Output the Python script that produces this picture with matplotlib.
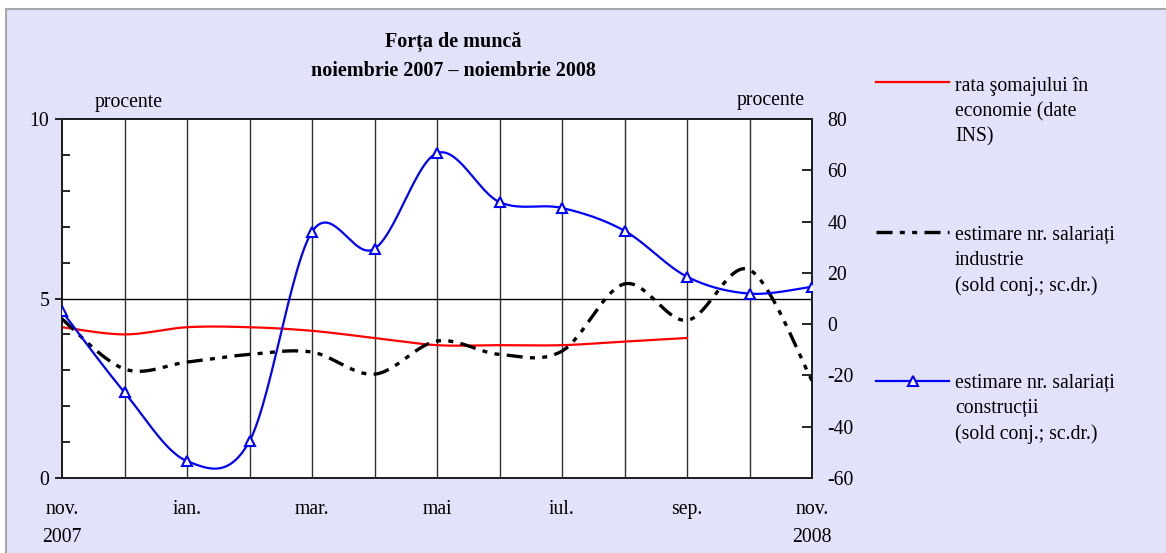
import numpy as np
import matplotlib
matplotlib.use("Agg")
import matplotlib.pyplot as plt
from matplotlib.lines import Line2D
from matplotlib.patches import Rectangle

plt.rcParams['font.family'] = ['Liberation Serif', 'DejaVu Serif']
plt.rcParams['axes.unicode_minus'] = False

# ---- data ----
months = ["nov.", "dec.", "ian.", "feb.", "mar.", "apr.", "mai", "iun.",
          "iul.", "aug.", "sep.", "oct.", "nov."]
tick_labels = ["nov.\n2007", "ian.", "mar.", "mai", "iul.", "sep.", "nov.\n2008"]
unemployment = [4.2, 4.0, 4.2, 4.2, 4.1, 3.9, 3.7, 3.7, 3.7, 3.8, 3.9]
industry = [2.0, -17.5, -14.8, -11.8, -10.9, -19.5, -6.6, -11.8, -10.5, 15.7, 1.5, 21.2, -22.0]
construction = [5.0, -26.6, -53.4, -45.6, 36.0, 29.4, 66.7, 47.6, 45.3, 36.4, 18.5, 11.9, 14.6]

W, H = 1166, 553
FS = 14.2
DASH = (4.8, 2.2, 1.5, 2.2, 1.5, 2.2)


def smooth(y, n=30):
    """Excel-style smoothed line (Bezier with neighbour-based control points)."""
    x = np.arange(len(y), dtype=float)
    pts = np.column_stack([x, np.asarray(y, float)])
    out = []
    m = len(pts)
    t = np.linspace(0, 1, n)[:, None]
    for i in range(m - 1):
        p0 = pts[max(i - 1, 0)]
        p1 = pts[i]
        p2 = pts[i + 1]
        p3 = pts[min(i + 2, m - 1)]
        c1 = p1 + (p2 - p0) / 6.0
        c2 = p2 - (p3 - p1) / 6.0
        seg = ((1 - t) ** 3) * p1 + 3 * ((1 - t) ** 2) * t * c1 + 3 * (1 - t) * t ** 2 * c2 + t ** 3 * p2
        out.append(seg if i == 0 else seg[1:])
    arr = np.vstack(out)
    return arr[:, 0], arr[:, 1]


def fx(px):
    return px / W


def fy(py):
    return 1 - py / H


fig = plt.figure(figsize=(W / 100, H / 100), dpi=100)
fig.patch.set_facecolor("white")

# background panel
fig.add_artist(Rectangle((fx(6), 0), 1 - fx(6), fy(9), transform=fig.transFigure,
                         facecolor="#e2e2fb", edgecolor="none", zorder=-10))
fig.add_artist(Line2D([fx(6), 1], [fy(9), fy(9)], transform=fig.transFigure, color="#a8a8a8", lw=1.5, zorder=-9))
fig.add_artist(Line2D([fx(6), fx(6)], [0, fy(9)], transform=fig.transFigure, color="#a8a8a8", lw=1.5, zorder=-9))

ax = fig.add_axes([fx(62), fy(478), fx(812) - fx(62), fy(119) - fy(478)])
ax.set_facecolor("white")
ax2 = ax.twinx()

x_idx = np.arange(len(months))

# grid
for xi in x_idx[1:-1]:
    ax.axvline(xi, color="#303030", lw=1.0, zorder=1)
ax.axhline(5, color="black", lw=1.0, zorder=1)

# red series (left axis)
xs, ys = smooth(unemployment)
ax.plot(xs, ys, color="#ff0000", lw=1.6, zorder=3)

# industry (right axis)
xs, ys = smooth(industry)
ax2.plot(xs, ys, color="black", lw=2.4, dashes=DASH, zorder=3)

# construction (right axis)
xs, ys = smooth(construction)
ax2.plot(xs, ys, color="#0000ff", lw=1.6, zorder=4)
ax2.plot(x_idx, construction, ls="none", marker="^", ms=7, mfc="white", mec="#0000ff", mew=1.5, zorder=5)

ax.set_xlim(0, 12)
ax.set_ylim(0, 10)
ax2.set_ylim(-60, 80)

ax.set_yticks([0, 5, 10])
ax.set_yticks(np.arange(0, 11, 1), minor=True)
ax.tick_params(axis="y", which="major", direction="out", length=5, width=1.2, labelsize=FS, pad=4)
ax.tick_params(axis="y", which="minor", direction="in", length=6, width=1.2)
ax2.set_yticks(np.arange(-60, 81, 20))
ax2.tick_params(axis="y", which="major", direction="in", length=7, width=1.2, labelsize=FS, pad=11)

ax.set_xticks(x_idx[::2])
ax.set_xticklabels(tick_labels, fontsize=FS, va="top", linespacing=1.6)
ax.tick_params(axis="x", length=0, pad=16)
ax2.tick_params(axis="x", length=0)

for a in (ax, ax2):
    for s in a.spines.values():
        s.set_color("#202020")
        s.set_linewidth(1.4)

# titles and unit labels
fig.text(fx(453), fy(42), "Forța de muncă", ha="center", va="center", fontsize=14.5, fontweight="bold")
fig.text(fx(453), fy(71), "noiembrie 2007 – noiembrie 2008", ha="center", va="center", fontsize=14.5, fontweight="bold")
fig.text(fx(129), fy(103), "procente", ha="center", va="center", fontsize=FS)
fig.text(fx(771), fy(101), "procente", ha="center", va="center", fontsize=FS)

# legend (manual)
lx0, lx1, tx = 876, 949, 955
LS = 1.42


def legend_text(y, s):
    fig.text(fx(tx), fy(y - 7), s, ha="left", va="top", fontsize=FS, linespacing=LS,
             transform=fig.transFigure)


fig.add_artist(Line2D([fx(lx0), fx(lx1)], [fy(82), fy(82)], transform=fig.transFigure, color="#ff0000", lw=1.6))
legend_text(84, "rata şomajului în\neconomie (date\nINS)")

fig.add_artist(Line2D([fx(lx0), fx(lx1)], [fy(232), fy(232)], transform=fig.transFigure, color="black",
                      lw=2.4, dashes=DASH))
legend_text(233, "estimare nr. salariați\nindustrie\n(sold conj.; sc.dr.)")

fig.add_artist(Line2D([fx(lx0), fx(lx1)], [fy(381), fy(381)], transform=fig.transFigure, color="#0000ff", lw=1.6))
fig.add_artist(Line2D([fx((lx0 + lx1) / 2)], [fy(381)], transform=fig.transFigure, ls="none",
                      marker="^", ms=7, mfc="white", mec="#0000ff", mew=1.5))
legend_text(381, "estimare nr. salariați\nconstrucții\n(sold conj.; sc.dr.)")

fig.savefig("out.png", dpi=100, facecolor=fig.get_facecolor())
